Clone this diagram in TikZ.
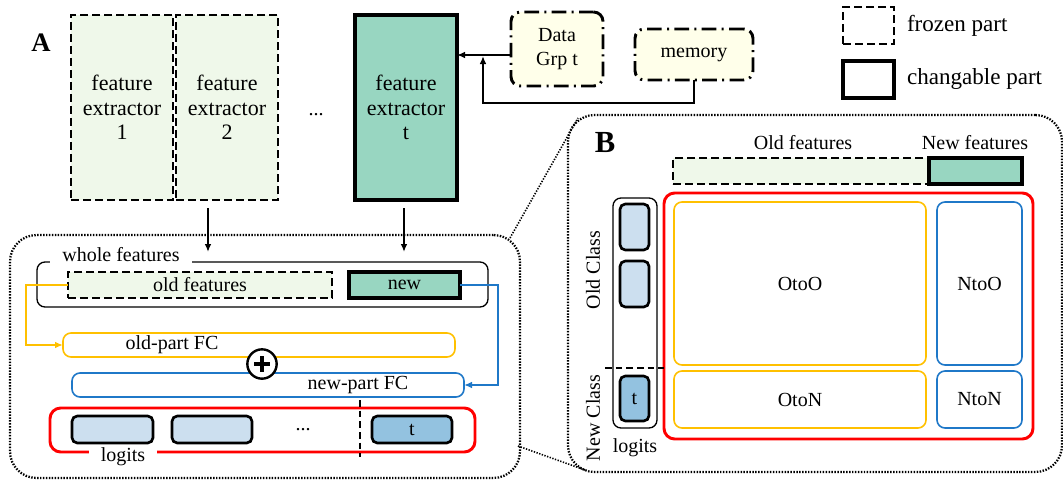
\documentclass[tikz,border=0pt]{standalone}
\usepackage{fontspec}
\setmainfont{Liberation Serif}
\usetikzlibrary{arrows.meta,calc}
\definecolor{lgreen}{HTML}{EFF8EA}
\definecolor{tealf}{HTML}{98D6C1}
\definecolor{lyellow}{HTML}{FFFFEA}
\definecolor{lblue}{HTML}{CCDFEF}
\definecolor{dblue}{HTML}{93C2E0}
\definecolor{yline}{HTML}{FFC000}
\definecolor{bline}{HTML}{1F78C8}
\definecolor{rline}{HTML}{FF0000}
\newcommand\bx[7]{\node[#2, minimum width={(#5-#3)*0.75pt}, minimum height={(#6-#4)*0.75pt}] (#1) at ({(#3+#5)/2},{(#4+#6)/2}) {#7};}
\begin{document}
\begin{tikzpicture}[x=0.75pt,y=-0.75pt,
 font=\fontsize{15}{18}\selectfont,
 every node/.style={inner sep=0pt, outer sep=0pt},
 base/.style={rectangle, inner sep=0pt, outer sep=0pt, align=center},
 frozen/.style={base, draw, fill=lgreen, line width=1.5pt, dash pattern=on 6pt off 3pt},
 change/.style={base, draw, fill=tealf, line width=2.3pt},
 fetext/.style={font=\fontsize{16.5}{18.5}\selectfont},
 datab/.style={base, draw, fill=lyellow, line width=2.2pt, rounded corners=7pt, dash pattern=on 11pt off 4pt on 1.5pt off 4pt},
 zone/.style={base, draw, line width=1.7pt, dash pattern=on 1.1pt off 1.1pt, rounded corners=20pt},
 thinbox/.style={base, draw, line width=1pt, rounded corners=6pt},
 ybox/.style={base, draw=yline, line width=1.2pt, rounded corners=6pt},
 bbox/.style={base, draw=bline, line width=1.2pt, rounded corners=6pt},
 rbox/.style={base, draw=rline, line width=2.2pt, rounded corners=8pt},
 logit/.style={base, draw, line width=2pt, fill=lblue, rounded corners=4pt},
 logitt/.style={logit, fill=dblue},
 legf/.style={base, draw, line width=1.5pt, dash pattern=on 6pt off 3pt},
 legc/.style={base, draw, line width=2.3pt},
 legtext/.style={anchor=west, font=\fontsize{17.3}{19}\selectfont},
 arr/.style={line width=1.5pt, -{Latex[length=6pt,width=5pt]}},
 yarr/.style={yline, line width=1.3pt, -{Latex[length=6pt,width=5pt]}},
 barr/.style={bline, line width=1.3pt, -{Latex[length=6pt,width=5pt]}},
 zoomline/.style={line width=1.2pt, dash pattern=on 1pt off 1.1pt},
 gaplbl/.style={fill=white, inner xsep=9pt, inner ysep=3pt},
 bigA/.style={font=\fontsize{20}{21}\selectfont\bfseries},
 bigB/.style={font=\fontsize{23}{24}\selectfont\bfseries}
]
\useasboundingbox (0,0) rectangle (1063,479);

% ---------- Panel A top ----------
\node[bigA] (labA) at (41,43) {A};
\bx{fe1}{frozen,fetext}{71}{15}{173}{200}{feature\\extractor\\1}
\bx{fe2}{frozen,fetext}{176}{15}{278}{200}{feature\\extractor\\2}
\node (dots1) at (316,115) {...};
\bx{fet}{change,fetext}{355}{15}{457}{200}{feature\\extractor\\t}
\bx{dg}{datab}{511}{12}{603}{86}{Data\\Grp t}
\bx{mem}{datab}{635}{29}{753}{80}{memory}

\coordinate (dgy) at (0,55);
\draw[arr] (dg.west |- dgy) -- (fet.east |- dgy);
\coordinate (mcorner) at (483,103);
\coordinate (mj) at (483,56);
\draw[arr] (mem.south) |- (mcorner) -- (mj);

% legend
\bx{legF}{legf}{843}{7}{894}{44}{}
\node[legtext] (legFt) at (907,26) {frozen part};
\bx{legC}{legc}{843}{61}{894}{98}{}
\node[legtext] (legCt) at (907,79) {changable part};

% ---------- Panel A bottom ----------
\bx{zoneA}{zone}{10}{235}{520}{478}{}
\coordinate (a1s) at (208,208);
\coordinate (a1e) at (208,252);
\coordinate (a2s) at (404,208);
\coordinate (a2e) at (404,252);
\draw[arr] (a1s) -- (a1e);
\draw[arr] (a2s) -- (a2e);

\bx{whole}{thinbox}{37}{262}{488}{307}{}
\node[gaplbl] (wholet) at (121,255) {whole features};
\bx{oldf}{frozen}{68}{272}{332}{298}{old features}
\bx{newf}{change}{349}{272}{460}{298}{new}

\bx{oldfc}{ybox}{63}{333}{455}{357}{}
\node (oldfct) at (172,345) {old-part FC};
\bx{newfc}{bbox}{72}{373}{464}{397}{}
\node (newfct) at (358,385) {new-part FC};

\draw[yarr] (oldf.west) -- ++(-42,0) |- (oldfc.west);
\draw[barr] (newf.east) -- ++(38,0) |- (newfc.east);

\node[circle, draw, fill=white, line width=1.8pt, minimum size=22pt] (plus) at (262,364) {};
\draw[line width=3pt] ($(plus.center)+(-8,0)$) -- ($(plus.center)+(8,0)$);
\draw[line width=3pt] ($(plus.center)+(0,-8)$) -- ($(plus.center)+(0,8)$);

\bx{logA}{rbox}{50}{408}{475}{452}{}
\node[gaplbl] (logAt) at (123,457) {logits};
\bx{l1}{logit}{72}{416}{153}{443}{}
\bx{l2}{logit}{172}{416}{252}{443}{}
\node (dots2) at (303,430) {...};
\bx{lt}{logitt}{372}{416}{452}{443}{t}
\coordinate (vds) at (360,400);
\coordinate (vde) at (360,457);
\draw[line width=1.2pt, dash pattern=on 5pt off 3pt] (vds) -- (vde);

% ---------- Panel B ----------
\bx{zoneB}{zone}{568}{115}{1062}{472}{}
\coordinate (zA1) at (510,238);
\coordinate (zB1) at (578,118);
\coordinate (zA2) at (518,446);
\coordinate (zB2) at (585,470);
\draw[zoomline] (zA1) -- (zB1);
\draw[zoomline] (zA2) -- (zB2);

\node[bigB] (labB) at (605,143) {B};
\node (oldft) at (803,143) {Old features};
\node (newft) at (975,143) {New features};
\bx{oldbar}{frozen}{673}{158}{929}{184}{}
\bx{newbar}{change}{929}{158}{1022}{184}{}

\bx{redB}{rbox}{664}{193}{1033}{439}{}
\bx{OtoO}{ybox}{674}{202}{926}{365}{OtoO}
\bx{NtoO}{bbox}{937}{202}{1022}{365}{NtoO}
\bx{OtoN}{ybox}{674}{371}{926}{428}{OtoN}
\bx{NtoN}{bbox}{937}{371}{1022}{428}{NtoN}

\bx{logcol}{thinbox}{613}{198}{657}{428}{}
\bx{b1}{logit}{620}{204}{649}{250}{}
\bx{b2}{logit}{620}{261}{649}{307}{}
\bx{bt}{logitt}{620}{376}{649}{421}{t}
\coordinate (hds) at (605,368);
\coordinate (hde) at (664,368);
\draw[line width=1.2pt, dash pattern=on 5pt off 3pt] (hds) -- (hde);

\node[rotate=90] (oldcls) at (593,270) {Old Class};
\node[rotate=90] (newcls) at (593,418) {New Class};
\node (logBt) at (635,448) {logits};
\end{tikzpicture}
\end{document}
